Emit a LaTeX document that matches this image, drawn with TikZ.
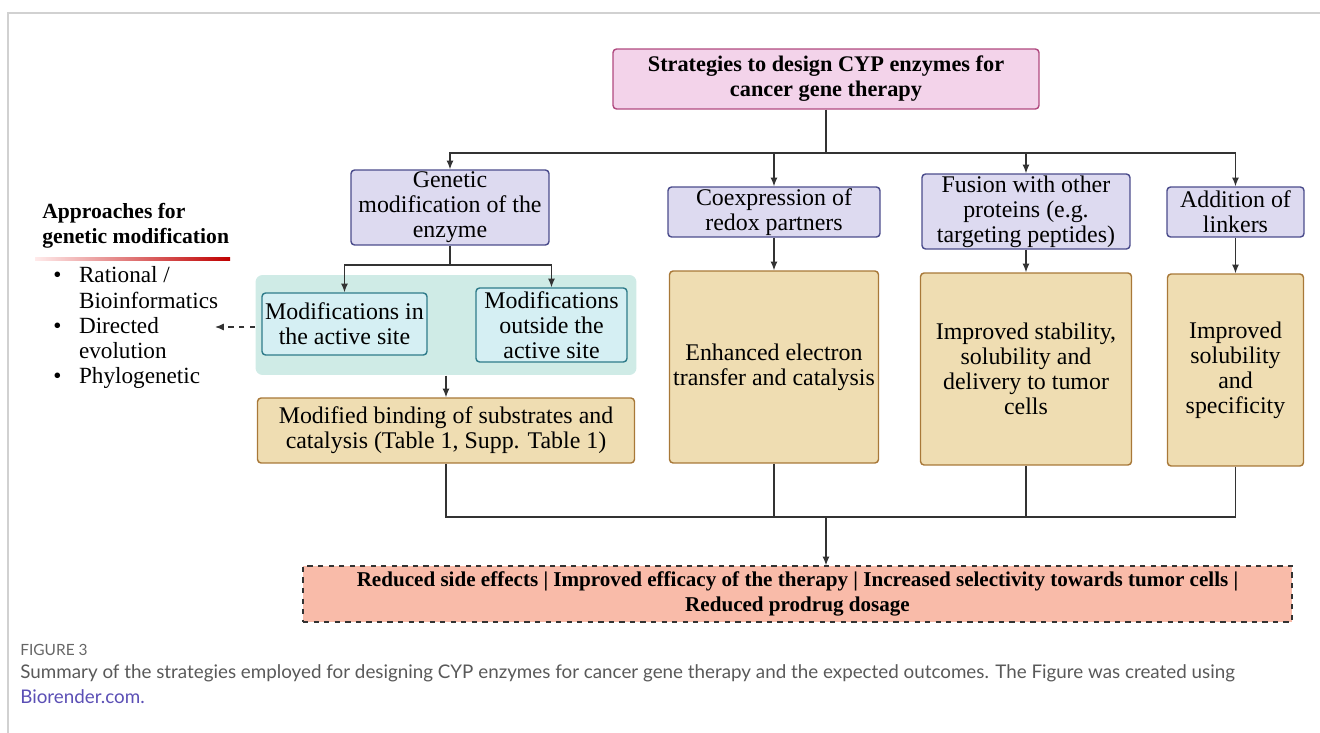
\documentclass[tikz,border=0pt]{standalone}
\usepackage{fontspec}
\setmainfont{Liberation Serif}
\newfontfamily\capfont{Lato}
\usetikzlibrary{arrows.meta}

\definecolor{pinkfill}{HTML}{F3D3EA}
\definecolor{pinkline}{HTML}{B04A80}
\definecolor{lilacfill}{HTML}{DDDAF0}
\definecolor{lilacline}{HTML}{4B4C8C}
\definecolor{tealbg}{HTML}{CFEBE6}
\definecolor{tealfill}{HTML}{D5EFF3}
\definecolor{tealline}{HTML}{2E7B8A}
\definecolor{tanfill}{HTML}{EFDDB2}
\definecolor{tanline}{HTML}{A87838}
\definecolor{salmon}{HTML}{F9BBA9}
\definecolor{linkcol}{HTML}{5B4FB5}

\begin{document}
\begin{tikzpicture}[
    x=0.02cm, y=-0.02cm,
    box/.style={
        rectangle,
        rounded corners=2pt,
        line width=0.8pt,
        inner sep=0pt,
        align=center,
        font=\fontsize{13.6}{14.3}\selectfont
    },
    topbox/.style={box, draw=pinkline, fill=pinkfill, font=\fontsize{12.7}{14.3}\selectfont\bfseries},
    stratbox/.style={box, draw=lilacline, fill=lilacfill},
    modbox/.style={box, draw=tealline, fill=tealfill},
    resultbox/.style={box, draw=tanline, fill=tanfill},
    outbox/.style={box, rounded corners=0pt, draw=black!80, dashed, fill=salmon, font=\fontsize{12}{14.3}\selectfont\bfseries},
    line/.style={line width=0.7pt, black!80},
    arrow/.style={line, -{Latex[length=5pt,width=4pt]}}
]
\useasboundingbox (0,0) rectangle (1320,733);

% page frame
\draw[black!18, line width=1pt] (8,733) -- (8,13) -- (1320,13);

% Top box
\node[topbox, minimum width=8.52cm, minimum height=1.2cm] (top) at (826,79) {
Strategies to design CYP enzymes for\\
cancer gene therapy
};

% Strategy boxes
\node[stratbox, minimum width=3.96cm, minimum height=1.5cm] (gen) at (450,207.5) {
Genetic\\ modification of the\\ enzyme
};
\node[stratbox, minimum width=4.24cm, minimum height=1cm] (coex) at (774,212) {
Coexpression of\\ redox partners
};
\node[stratbox, minimum width=4.16cm, minimum height=1.5cm] (fus) at (1026,211.5) {
Fusion with other\\ proteins (e.g.\\ targeting peptides)
};
\node[stratbox, minimum width=2.74cm, minimum height=1cm] (addl) at (1235.5,212) {
Addition of\\ linkers
};

% Modification area
\node[box, draw=none, fill=tealbg, rounded corners=4pt, minimum width=7.62cm, minimum height=2cm] (teal) at (446,325) {};
\node[modbox, minimum width=3.3cm, minimum height=1.24cm] (mina) at (344.5,324) {
Modifications in\\ the active site
};
\node[modbox, minimum width=3.02cm, minimum height=1.48cm] (mout) at (551.5,325) {
Modifications\\ outside the\\ active site
};

% Outcome boxes
\node[resultbox, minimum width=7.54cm, minimum height=1.3cm] (modb) at (446,430.5) {
Modified binding of substrates and\\ catalysis (Table 1, Supp. Table 1)
};
\node[resultbox, minimum width=4.18cm, minimum height=3.84cm] (enh) at (774,367) {
Enhanced electron\\ transfer and catalysis
};
\node[resultbox, minimum width=4.22cm, minimum height=3.84cm] (imp) at (1026,369) {
Improved stability,\\ solubility and\\ delivery to tumor\\ cells
};
\node[resultbox, minimum width=2.72cm, minimum height=3.84cm] (sol) at (1235.5,370) {
Improved\\ solubility\\ and\\ specificity
};

% Final box
\node[outbox, minimum width=19.78cm, minimum height=1.12cm] (outc) at (797.5,594) {
Reduced side effects | Improved efficacy of the therapy | Increased selectivity towards tumor cells |\\
Reduced prodrug dosage
};

% Approaches list
\node[anchor=north west, align=left, inner sep=0pt, font=\fontsize{12.3}{14.3}\selectfont\bfseries] (apptitle) at (42,203) {
Approaches for\\ genetic modification
};
\shade[left color=red!8, right color=red!75!black] (35,257.5) rectangle (230,260.5);
\node[anchor=north west, align=left, inner sep=0pt, font=\fontsize{13.2}{14.3}\selectfont] (applist) at (53,265) {
\begin{tabular}{@{}l@{\hspace{10pt}}l@{}}
\textbullet & Rational /\\
 & Bioinformatics\\
\textbullet & Directed\\
 & evolution\\
\textbullet & Phylogenetic
\end{tabular}
};
\coordinate (dashend) at (215,327);

% Connectors
\coordinate (bus) at (826,153);
\draw[line] (top) -- (bus);
\draw[arrow] (bus) -| (gen);
\draw[arrow] (bus) -| (coex);
\draw[arrow] (bus) -| (fus);
\draw[arrow] (bus) -| (addl);

\coordinate (split) at (450,265);
\draw[line] (gen) -- (split);
\draw[arrow] (split) -| (mina);
\draw[arrow] (split) -| (mout);
\draw[arrow] (teal) -- (modb);
\draw[arrow, dashed] (teal.west |- dashend) -- (dashend);

\draw[arrow] (coex) -- (enh);
\draw[arrow] (fus) -- (imp);
\draw[arrow] (addl) -- (sol);

\coordinate (merge) at (826,517);
\draw[line] (modb) |- (merge);
\draw[line] (enh) -- (enh |- merge);
\draw[line] (imp) -- (imp |- merge);
\draw[line] (sol) |- (merge);
\draw[arrow] (merge) -- (merge |- outc.north);

% Caption
\node[anchor=base west, inner sep=0pt, text=black!60, font=\capfont\fontsize{8.8}{10}\selectfont] (figlabel) at (20,655) {FIGURE 3};
\node[anchor=north west, align=left, inner sep=0pt, text=black!65, font=\capfont\fontsize{10.7}{14.2}\selectfont] (caption) at (20,664) {
Summary of the strategies employed for designing CYP enzymes for cancer gene therapy and the expected outcomes. The Figure was created using\\
\textcolor{linkcol}{Biorender.com.}
};

\end{tikzpicture}
\end{document}
